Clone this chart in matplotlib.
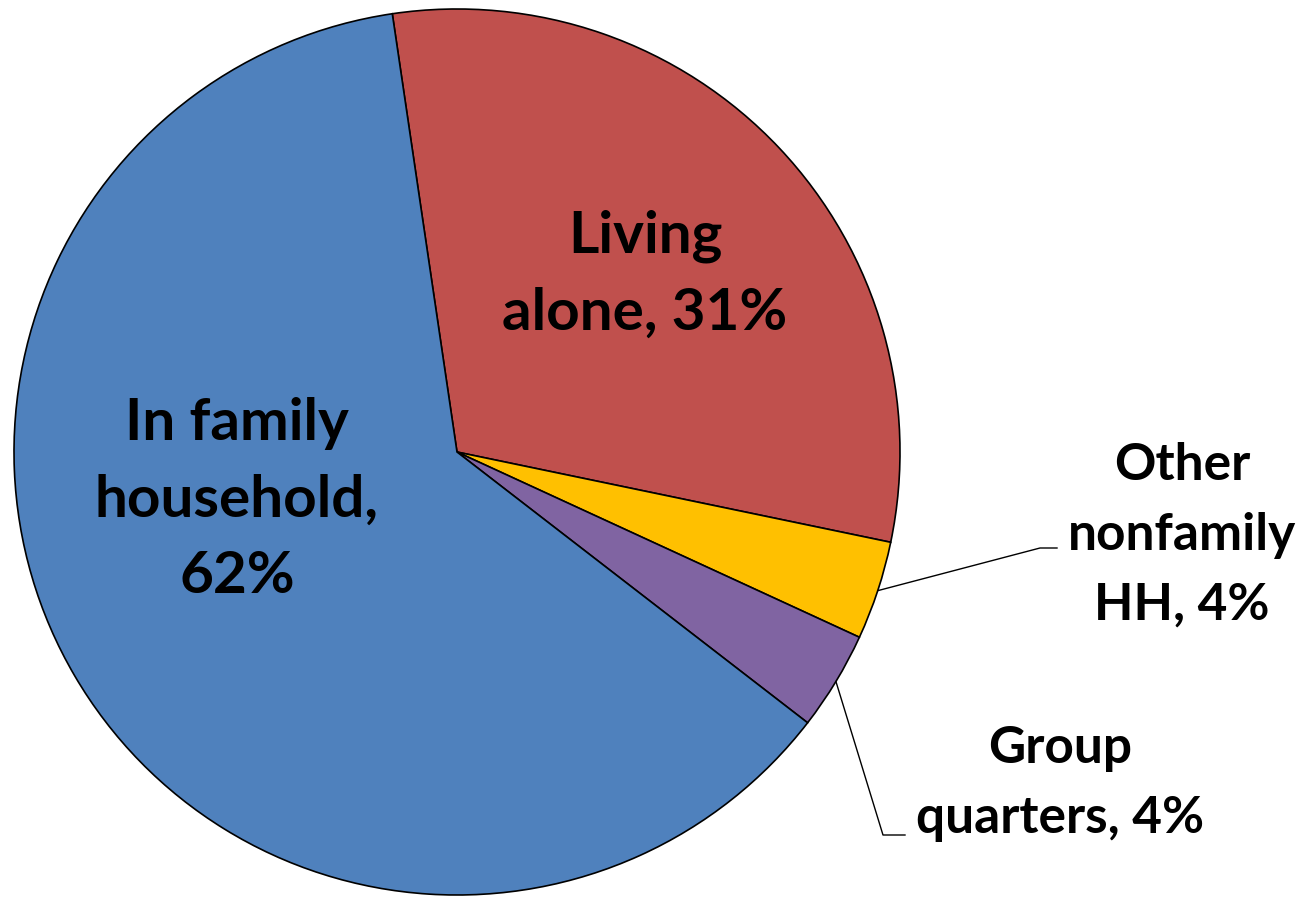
import numpy as np
import matplotlib
matplotlib.use("Agg")
import matplotlib.pyplot as plt

# slices, clockwise from the top
labels = ["Living\nalone, 31%", "Other\nnonfamily\nHH, 4%", "Group\nquarters, 4%",
          "In family\nhousehold,\n62%"]
values = [30.6, 3.6, 3.6, 62.2]
colors = ["#C0504D", "#FFC000", "#8064A2", "#4F81BD"]

W, H = 1305, 898
fig = plt.figure(figsize=(W / 100, H / 100), dpi=100)
ax = fig.add_axes([0, 0, 1, 1])

cx, cy, r = 457, H - 452, 443
wedges, _ = ax.pie(values, colors=colors, startangle=98.4, counterclock=False,
                   center=(cx, cy), radius=r,
                   wedgeprops=dict(edgecolor="black", linewidth=1.2))
ax.set_xlim(0, W)
ax.set_ylim(0, H)
ax.set_aspect("equal")
ax.axis("off")

font = dict(family="Lato", weight="bold", color="black")

# labels inside the big slices (y = baseline of the last line)
ax.text(645, H - 330, labels[0], ha="center", va="baseline", fontsize=42,
        linespacing=1.55, **font)
ax.text(237, H - 593, labels[3], ha="center", va="baseline", fontsize=42,
        linespacing=1.55, **font)

# outside labels with leader lines
ax.text(1182, H - 620, labels[1], ha="center", va="baseline", fontsize=37,
        linespacing=1.6, **font)
ax.text(1060, H - 833, labels[2], ha="center", va="baseline", fontsize=37,
        linespacing=1.6, **font)


def edge_point(w):
    mid = np.deg2rad((w.theta1 + w.theta2) / 2)
    return cx + r * np.cos(mid), cy + r * np.sin(mid)


x0, y0 = edge_point(wedges[1])
ax.plot([x0, 1040, 1057], [y0, H - 548, H - 548], color="black", lw=1)
x0, y0 = edge_point(wedges[2])
ax.plot([x0, 883, 905], [y0, H - 835, H - 835], color="black", lw=1)

fig.savefig("out.png", dpi=100, facecolor="white")
